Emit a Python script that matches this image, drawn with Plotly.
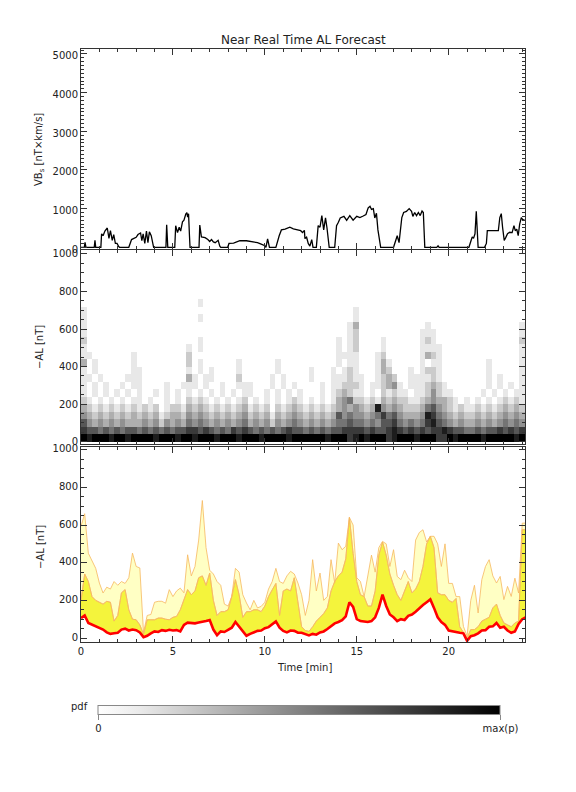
import plotly.graph_objects as go

# ---------------- data ----------------
# Top panel: VBs solar-wind driver
vbs_time = [0.0, 0.18, 0.22, 0.27, 0.72, 0.76, 0.8, 1.08, 1.12, 1.2, 1.3, 1.43, 1.52, 1.6, 1.7, 1.78, 1.87,
            1.96, 2.05, 2.1, 2.6, 2.75, 2.85, 3.0, 3.1, 3.24, 3.31, 3.38, 3.47, 3.56, 3.64, 3.72, 3.82, 3.9,
            3.95, 4.62, 4.66, 4.72, 5.1, 5.15, 5.25, 5.34, 5.42, 5.52, 5.6, 5.7, 5.76, 5.8, 5.85, 5.9, 5.93,
            6.42, 6.46, 6.55, 6.75, 6.9, 7.0, 7.1, 7.2, 7.3, 7.46, 7.55, 7.6, 7.98, 8.05, 8.3, 8.64, 9.0,
            9.37, 9.6, 9.8, 10.0, 10.06, 10.15, 10.25, 10.6, 10.78, 10.9, 11.1, 11.36, 11.55, 11.8, 11.95,
            12.05, 12.15, 12.18, 12.27, 12.36, 12.45, 12.55, 12.62, 12.8, 12.9, 13.0, 13.1, 13.2, 13.3,
            13.38, 13.5, 13.8, 13.9, 14.0, 14.1, 14.3, 14.45, 14.62, 14.8, 15.0, 15.17, 15.35, 15.5, 15.62,
            15.72, 15.8, 15.9, 15.98, 16.07, 16.15, 16.25, 16.3, 17.0, 17.1, 17.2, 17.3, 17.38, 17.45, 17.55,
            17.7, 17.85, 17.98, 18.05, 18.15, 18.25, 18.35, 18.45, 18.55, 18.62, 18.66, 18.7, 19.35, 19.42,
            19.48, 21.1, 21.2, 21.28, 21.35, 21.43, 21.5, 21.56, 21.6, 21.95, 22.05, 22.1, 22.7, 22.78,
            22.86, 22.93, 23.02, 23.1, 23.2, 23.32, 23.45, 23.55, 23.62, 23.7, 23.78, 23.86, 23.95, 24.05,
            24.12]
vbs_value = [0, 0, 130, 0, 0, 180, 0, 0, 350, 300, 420, 500, 230, 430, 180, 330, 100,
             100, 20, 0, 0, 200, 225, 260, 330, 370, 170, 350, 100, 420, 120, 400, 300, 80,
             0, 0, 580, 0, 0, 560, 380, 520, 420, 660, 700, 860, 900, 780, 870, 300, 0,
             0, 575, 270, 250, 200, 150, 200, 140, 120, 180, 30, 0, 0, 100, 110, 170, 170,
             140, 120, 80, 40, 0, 220, 0, 0, 300, 450, 470, 520, 480, 450, 430,
             380, 440, 225, 260, 100, 30, 200, 0, 0, 560, 520, 820, 450, 760,
             500, 0, 0, 560, 650, 760, 800, 700, 820, 700, 800, 770, 810, 850, 1020,
             1060, 980, 1000, 760, 880, 450, 100, 0, 0, 150, 300, 120, 450, 770, 900,
             930, 1000, 930, 800, 900, 820, 900, 820, 940, 900, 30, 0, 0, 40,
             0, 0, 150, 270, 230, 350, 930, 50, 0, 0, 100, 430, 430, 770,
             870, 520, 180, 250, 350, 390, 380, 560, 430, 470, 300, 600, 770, 700,
             720]

# Middle panel: pdf of forecast -AL (rows = 40 nT bins from 0, columns = time bins, 0..9 intensity)
pdf_bin_nT = 40
pdf_time_bin_h = 0.302
pdf_rows = [
    "9899989989 9998999899 8999899989 9989999899 9999899978 9899978999 8999779899 9989999989",
    "7665656566 5656565667 7676565767 6565656766 5656566777 7676678767 6767787665 5656676767",
    "6434343433 3434243435 4543434345 3434243454 3434345565 5454667545 4578654343 3434345454",
    "4323232323 2323123324 3432323234 2323132343 2323236454 4345756433 3487543232 2323234343",
    "3212121212 1212012213 2321212123 1212021232 1212123434 3238434322 2356432121 1212123232",
    "2101010101 1010010102 1210101012 0101010121 0101013452 2121323221 1234332101 0101012121",
    "1010101010 1001010101 0101010101 1001010101 0001012321 1010212110 1124211000 0010101011",
    "1010100101 1000010011 1010010011 1000101010 0001011222 1011234101 1123210000 0001010101",
    "1101000011 1000000003 1011000020 0000101000 0100011121 1001232001 1112100000 0001010001",
    "1010000001 1000000001 0101000010 0000010000 0100010121 0001320001 0122100000 0001000001",
    "3010000001 0000000002 0100000010 0000010000 0000001011 0001310000 0101100000 0001000001",
    "1100000001 0000000002 0000000000 0000000000 0000001111 0001200000 0132100000 0000000001",
    "1000000000 0000000001 0100000000 0000000000 0000001012 0000100000 0111100000 0000000001",
    "2000000000 0000000000 0100000000 0000000000 0000001012 0000100000 0121000000 0000000002",
    "1000000000 0000000000 0000000000 0000000000 0000000012 0000000000 0111000000 0000000001",
    "1000000000 0000000000 0000000000 0000000000 0000000013 0000000000 0010000000 0000000001",
    "1000000000 0000000000 0100000000 0000000000 0000000001 0000000000 0000000000 0000000000",
    "1000000000 0000000000 0000000000 0000000000 0000000001 0000000000 0000000000 0000000000",
    "0000000000 0000000000 0100000000 0000000000 0000000000 0000000000 0000000000 0000000000",
]

# Bottom panel: forecast -AL (0.2 h steps)
time_h = [round(0.2 * i, 1) for i in range(122)]
al_red = [106, 120, 80, 72, 60, 55, 45, 30, 22, 25,
          28, 45, 50, 40, 45, 42, 30, 5, 12, 25,
          35, 32, 42, 38, 44, 40, 42, 35, 70, 82,
          80, 78, 82, 88, 90, 95, 45, 15, 35, 32,
          42, 55, 85, 60, 35, 12, 22, 32, 38, 40,
          52, 58, 75, 88, 55, 38, 30, 40, 38, 28,
          28, 20, 14, 22, 18, 30, 35, 48, 62, 78,
          85, 95, 115, 190, 165, 100, 90, 88, 85, 90,
          110, 160, 230, 170, 125, 110, 90, 100, 96, 118,
          125, 140, 160, 175, 190, 205, 160, 110, 85, 70,
          40, 35, 30, 28, 25, -15, 10, 15, 25, 40,
          42, 60, 62, 80, 55, 60, 40, 28, 35, 75,
          100, 110]
al_mid = [200, 340, 300, 220, 200, 190, 180, 195, 190, 90,
          120, 240, 257, 150, 100, 97, 70, 20, 97, 97,
          97, 106, 106, 100, 97, 110, 115, 150, 204, 257,
          230, 250, 320, 330, 280, 345, 200, 120, 140, 140,
          150, 220, 310, 230, 110, 140, 140, 150, 150, 140,
          170, 220, 256, 290, 120, 250, 260, 250, 320, 180,
          60, 40, 35, 60, 90, 110, 130, 160, 250, 300,
          330, 350, 420, 640, 450, 300, 230, 220, 170, 170,
          250, 440, 510, 440, 340, 280, 230, 200, 250, 300,
          240, 260, 300, 380, 500, 540, 480, 240, 230, 230,
          200, 190, 210, 60, 30, 0, 45, 45, 60, 90,
          100, 110, 160, 180, 120, 80, 70, 60, 80, 90,
          575, 575]
al_top = [593, 660, 450, 407, 370, 292, 239, 270, 260, 300,
          280, 300, 290, 320, 451, 380, 372, 30, 120, 125,
          190, 195, 195, 185, 257, 220, 250, 265, 240, 442,
          330, 380, 520, 730, 480, 360, 340, 300, 280, 180,
          170, 221, 370, 350, 230, 186, 150, 200, 160, 168,
          190, 260, 300, 370, 300, 290, 330, 354, 340, 292,
          230, 120, 200, 416, 250, 345, 200, 221, 416, 292,
          504, 469, 487, 640, 600, 320, 300, 220, 320, 440,
          350, 480, 513, 500, 380, 469, 327, 310, 360, 320,
          300, 520, 560, 575, 510, 540, 540, 500, 380, 500,
          290, 290, 220, 220, 62, 10, 200, 280, 133, 310,
          380, 416, 330, 292, 327, 204, 274, 221, 318, 239,
          610, 610]

x_ticks = [0, 5, 10, 15, 20]
vbs_ticks = [0, 1000, 2000, 3000, 4000, 5000]
al_ticks = [0, 200, 400, 600, 800, 1000]

# ---------------- figure ----------------
z = []
for row in pdf_rows:
    s = row.replace(" ", "")
    z.append([None if ch == "0" else int(ch) for ch in s])

FONT = "DejaVu Sans"
AX = "#333333"

fig = go.Figure()

fig.add_trace(go.Scatter(x=vbs_time, y=vbs_value, mode="lines",
                         line=dict(color="black", width=1.3),
                         xaxis="x", yaxis="y", showlegend=False))

fig.add_trace(go.Heatmap(
    z=z, x0=pdf_time_bin_h / 2, dx=pdf_time_bin_h, y0=pdf_bin_nT / 2, dy=pdf_bin_nT,
    zmin=0, zmax=9, colorscale=[[0, "#ffffff"], [0.1, "#ebebeb"], [1, "#000000"]],
    xaxis="x2", yaxis="y2", showscale=True,
    colorbar=dict(orientation="h", x=0.4921, xanchor="center", y=-0.1307, yanchor="middle",
                  len=422, lenmode="pixels", thickness=9,
                  tickvals=[0, 9], ticktext=["0", "max(p)"],
                  ticks="outside", ticklen=5, tickcolor="#888888",
                  outlinecolor="#888888", outlinewidth=1,
                  tickfont=dict(family=FONT, size=10, color="#222222")),
))

fig.add_trace(go.Scatter(x=time_h, y=al_red, mode="lines", line=dict(width=0, color="rgba(0,0,0,0)"),
                         xaxis="x3", yaxis="y3", showlegend=False, hoverinfo="skip"))
fig.add_trace(go.Scatter(x=time_h, y=al_mid, mode="lines", fill="tonexty", fillcolor="#F4F43C",
                         line=dict(color="#F6B860", width=0.8),
                         xaxis="x3", yaxis="y3", showlegend=False))
fig.add_trace(go.Scatter(x=time_h, y=al_top, mode="lines", fill="tonexty", fillcolor="#FFFFC4",
                         line=dict(color="#F6B860", width=0.8),
                         xaxis="x3", yaxis="y3", showlegend=False))
fig.add_trace(go.Scatter(x=time_h, y=al_mid, mode="lines",
                         line=dict(color="#F6B860", width=0.8),
                         xaxis="x3", yaxis="y3", showlegend=False, hoverinfo="skip"))
fig.add_trace(go.Scatter(x=time_h, y=al_red, mode="lines", line=dict(color="#FF0000", width=2.6),
                         xaxis="x3", yaxis="y3", showlegend=False))

common = dict(showline=True, linecolor=AX, linewidth=1, mirror="ticks", ticks="inside",
              ticklen=6, tickcolor=AX, showgrid=False, zeroline=False,
              tickfont=dict(family=FONT, size=10, color="#222222"))
xcommon = dict(common, range=[0, 24.15], tickvals=x_ticks,
               minor=dict(dtick=1, tick0=0, ticks="inside", ticklen=3, tickcolor=AX))

# the page body adds an 8 px margin, so the figure is 8 px smaller and shifted
fig.update_layout(
    width=568, height=784,
    margin=dict(l=73, r=51, t=41, b=150, autoexpand=False),
    paper_bgcolor="white", plot_bgcolor="white",
    showlegend=False,
    xaxis=dict(xcommon, domain=[0, 1], anchor="y", showticklabels=False),
    yaxis=dict(common, domain=[0.6627, 1], range=[-44, 5129], tickvals=vbs_ticks,
               ticklabelshift=2,
               minor=dict(dtick=100, tick0=0, ticks="inside", ticklen=3, tickcolor=AX)),
    xaxis2=dict(xcommon, domain=[0, 1], anchor="y2", showticklabels=False),
    yaxis2=dict(common, domain=[0.3339, 0.6611], range=[-12, 1021], tickvals=al_ticks,
                minor=dict(dtick=50, tick0=0, ticks="inside", ticklen=3, tickcolor=AX)),
    xaxis3=dict(xcommon, domain=[0, 1], anchor="y3", showticklabels=True),
    yaxis3=dict(common, domain=[0, 0.3288], range=[-21, 1014], tickvals=al_ticks,
                ticklabelshift=-1,
                minor=dict(dtick=50, tick0=0, ticks="inside", ticklen=3, tickcolor=AX)),
)

ann_font = dict(family=FONT, size=10, color="#222222")
fig.add_annotation(text="Near Real Time AL Forecast", x=0.5, y=1.0152, xref="paper", yref="paper",
                   showarrow=False, font=dict(family=FONT, size=12, color="#222222"),
                   xanchor="center", yanchor="middle")
fig.add_annotation(text="VB<sub>s</sub> [nT×km/s]", x=-0.0923, y=0.8297, xref="paper", yref="paper",
                   showarrow=False, textangle=-90, font=ann_font, xanchor="center", yanchor="middle")
fig.add_annotation(text="−AL [nT]", x=-0.0923, y=0.4975, xref="paper", yref="paper",
                   showarrow=False, textangle=-90, font=ann_font, xanchor="center", yanchor="middle")
fig.add_annotation(text="−AL [nT]", x=-0.0923, y=0.1602, xref="paper", yref="paper",
                   showarrow=False, textangle=-90, font=ann_font, xanchor="center", yanchor="middle")
fig.add_annotation(text="Time [min]", x=0.5045, y=-0.0422, xref="paper", yref="paper",
                   showarrow=False, font=ann_font, xanchor="center", yanchor="middle")
fig.add_annotation(text="pdf", x=0.0203, y=-0.1096, xref="paper", yref="paper",
                   showarrow=False, font=ann_font, xanchor="right", yanchor="middle")

fig.write_html("out.html")
